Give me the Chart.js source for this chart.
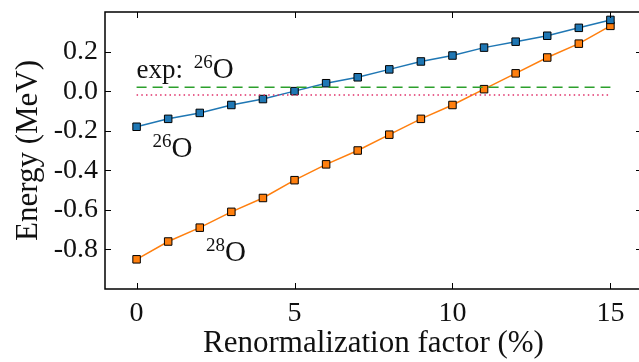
<!DOCTYPE html>
<html><head><meta charset="utf-8">
<script src="https://cdn.jsdelivr.net/npm/chart.js@4/dist/chart.umd.min.js"></script>
<style>html,body{margin:0;padding:0;background:#fff;overflow:hidden}#wrap{width:639px;height:362px;overflow:hidden}</style>
</head><body><div id="wrap"><canvas id="c" width="642" height="362"></canvas></div>
<script>
const xValues = [0,1,2,3,4,5,6,7,8,9,10,11,12,13,14,15];
const o26 = [-0.18,-0.14,-0.11,-0.07,-0.04,0.00,0.04,0.07,0.11,0.15,0.18,0.22,0.25,0.28,0.32,0.36];
const o28 = [-0.85,-0.76,-0.69,-0.61,-0.54,-0.45,-0.37,-0.30,-0.22,-0.14,-0.07,0.01,0.09,0.17,0.24,0.33];
const expLevel = 0.02;
const refLevel = -0.02;
const xTicks = [0,5,10,15];
const yTicks = [-0.8,-0.6,-0.4,-0.2,0.0,0.2];
const FONT = "'Liberation Serif', 'DejaVu Serif', serif";

const pts = arr => arr.map((v,i)=>({x:xValues[i], y:v}));
const hline = v => [{x:xValues[0],y:v},{x:xValues[xValues.length-1],y:v}];

const labels = [
  {x:0, y:0.066, pre:'exp: ', sup:'26', main:'O'},
  {x:0.5, y:-0.335, pre:'', sup:'26', main:'O'},
  {x:2.2, y:-0.86, pre:'', sup:'28', main:'O'}
];

const decor = {
  id:'decor',
  afterDraw(chart){
    const {ctx, chartArea:a, scales:{x,y}} = chart;
    ctx.save();
    ctx.strokeStyle='#000'; ctx.lineWidth=1;
    xTicks.forEach(t=>{const px=Math.round(x.getPixelForValue(t))+0.5;
      ctx.beginPath();ctx.moveTo(px,a.bottom);ctx.lineTo(px,a.bottom-6);ctx.moveTo(px,a.top);ctx.lineTo(px,a.top+6);ctx.stroke();});
    yTicks.forEach(t=>{const py=Math.round(y.getPixelForValue(t))+0.5;
      ctx.beginPath();ctx.moveTo(a.left,py);ctx.lineTo(a.left+6,py);ctx.moveTo(a.right,py);ctx.lineTo(a.right-6,py);ctx.stroke();});
    ctx.lineWidth=1.5;
    ctx.strokeRect(a.left,a.top,a.right-a.left,a.bottom-a.top);
    ctx.fillStyle='#111'; ctx.textBaseline='alphabetic';
    labels.forEach(l=>{
      let px=x.getPixelForValue(l.x), py=y.getPixelForValue(l.y);
      ctx.font="27px "+FONT;
      if(l.pre){ctx.fillText(l.pre,px,py); px+=ctx.measureText(l.pre).width+4;}
      ctx.font="19px "+FONT;
      ctx.fillText(l.sup,px,py-10); px+=ctx.measureText(l.sup).width;
      ctx.font="29px "+FONT;
      ctx.fillText(l.main,px,py);
    });
    ctx.restore();
  }
};

const markerDs = (label,data,color)=>({label,data,borderColor:color,backgroundColor:color,borderWidth:1.5,
  pointStyle:'rect',pointRadius:5.3,pointHoverRadius:5.3,pointBorderColor:'#000',pointBorderWidth:1,pointBackgroundColor:color,tension:0,fill:false,clip:8});

new Chart(document.getElementById('c'),{
  type:'line',
  data:{datasets:[
    {label:'exp',data:hline(expLevel),borderColor:'#2ca02c',borderWidth:1.5,borderDash:[10,6],pointRadius:0,fill:false},
    {label:'ref',data:hline(refLevel),borderColor:'#e0306a',borderWidth:1.5,borderDash:[1.5,3.2],pointRadius:0,fill:false},
    markerDs('26O',pts(o26),'#1f77b4'),
    markerDs('28O',pts(o28),'#ff7f0e')
  ]},
  options:{
    responsive:false,animation:false,
    layout:{autoPadding:false,padding:{top:12,right:0,left:0,bottom:0}},
    plugins:{legend:{display:false},tooltip:{enabled:false}},
    scales:{
      x:{type:'linear',min:-1,max:16,
        afterBuildTicks:s=>{s.ticks=xTicks.map(v=>({value:v}));},
        afterFit:s=>{s.height=73;s.paddingLeft=0;s.paddingRight=0;},
        grid:{display:false,drawTicks:false},border:{display:false},
        ticks:{padding:8,color:'#111',font:{family:FONT,size:28},callback:v=>String(v),maxRotation:0},
        title:{display:true,text:'Renormalization factor (%)',color:'#111',font:{family:FONT,size:31},padding:{top:0,bottom:0}}
      },
      y:{type:'linear',min:-1.0,max:0.4,
        afterBuildTicks:s=>{s.ticks=yTicks.map(v=>({value:v}));},
        afterFit:s=>{s.width=105;s.paddingTop=0;s.paddingBottom=0;},
        grid:{display:false,drawTicks:false},border:{display:false},
        ticks:{padding:7,color:'#111',font:{family:FONT,size:28},callback:v=>(Math.abs(v)<1e-9?0:v).toFixed(1)},
        title:{display:true,text:'Energy (MeV)',color:'#111',font:{family:FONT,size:31},padding:{top:10,bottom:0}}
      }
    }
  },
  plugins:[decor]
});
</script></body></html>
